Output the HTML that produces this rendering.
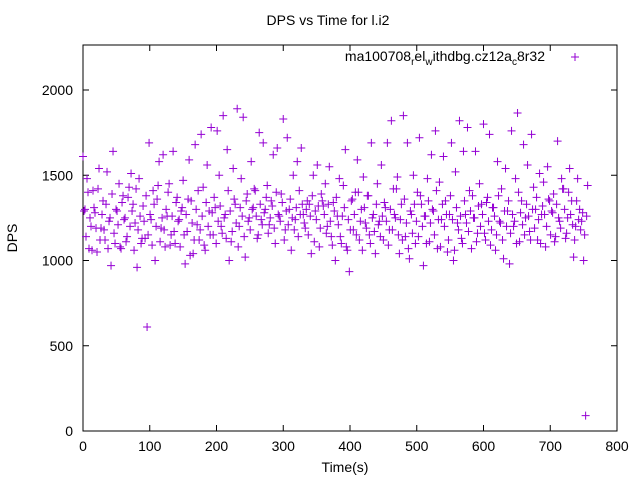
<!DOCTYPE html>
<html><head><meta charset="utf-8"><style>
html,body{margin:0;padding:0;background:#fff;}
svg{display:block;font-family:"Liberation Sans",sans-serif;}
</style></head><body>
<svg id="chart" width="640" height="480">
<text x="328" y="25" font-size="14" text-anchor="middle">DPS vs Time for l.i2</text>
<rect x="83" y="45" width="534" height="386" fill="none" stroke="#000" stroke-width="1"/>
<g id="axes"></g>
<g id="marks"></g>
<text x="345" y="472" font-size="14" text-anchor="middle">Time(s)</text>
<text x="17" y="238" font-size="14" text-anchor="middle" transform="rotate(-90 17 238)">DPS</text>
<g>
<text x="545" y="61" font-size="14" text-anchor="end">ma100708<tspan font-size="10" dy="4">r</tspan><tspan dy="-4">el</tspan><tspan font-size="10" dy="4">w</tspan><tspan dy="-4">ithdbg.cz12a</tspan><tspan font-size="10" dy="4">c</tspan><tspan dy="-4">8r32</tspan></text>
<path d="M571 57h8M575 53v8" stroke="#9400d3" stroke-width="1"/>
</g>
</svg>
<script>
const tStart = 0;
const tStep = 3;
const tStart2 = 1.5;
const dps = [
1610,1300,1480,1070,1200,1410,1280,1050,1540,1190,
1350,1120,1520,1230,970,1640,1100,1290,1450,1070,
1380,1250,1140,1430,1510,1330,1220,960,1480,1100,
1320,1130,610,1690,1240,1410,1000,1360,1580,1190,
1620,1080,1260,1450,1150,1640,1100,1370,1240,1290,
1470,980,1170,1590,1350,1040,1680,1210,1120,1740,
1430,1060,1560,1290,1780,1150,1310,1760,1500,1200,
1850,1270,1650,1000,1110,1540,1330,1890,1200,1480,
1840,1020,1390,1250,1580,1310,1410,1130,1750,1240,
1690,1300,1440,1210,1350,1620,1100,1660,1260,1390,
1830,1180,1720,1300,1060,1500,1240,1580,1410,1660,
1270,1190,1350,1330,1040,1500,1290,1560,1080,1390,
1320,1450,1200,1550,1140,1340,1000,1260,1480,1100,
1440,1650,1060,935,1350,1180,1400,1590,1120,1300,
1490,1220,1380,1150,1690,1270,1040,1450,1230,1560,
1120,1310,1690,1180,1820,1420,1250,1490,1040,1330,
1850,1140,1690,1010,1270,1500,1100,1400,1720,1330,
970,1260,1480,1110,1620,1290,1760,1070,1460,1240,
1610,1350,1050,1270,1690,1000,1520,1220,1820,1130,
1640,1270,1780,1410,1070,1250,1640,1160,1450,1330,
1800,1120,1370,1740,1180,1310,1060,1580,1230,1420,
1010,1540,1290,980,1760,1200,1480,1865,1110,1350,
1680,1250,1560,1170,1740,1430,1300,1120,1510,1270,
1460,1080,1550,1350,1290,1390,1140,1700,1230,1480,
1420,1130,1250,1540,1350,1020,1200,1480,1300,1230,
1000,90,1440
];
const dps2 = [
1290,1140,1400,1250,1060,1310,1190,1420,1120,1270,
1180,1330,1070,1250,1390,1160,1300,1210,1080,1340,
1240,1110,1370,1200,1290,1060,1420,1180,1260,1130,
1230,1380,1150,1270,1090,1330,1200,1440,1110,1250,
1180,1300,1400,1090,1260,1170,1340,1230,1080,1310,
1150,1270,1360,1030,1220,1120,1300,1410,1180,1260,
1090,1340,1200,1150,1280,1370,1100,1230,1320,1160,
1250,1130,1410,1290,1170,1360,1220,1080,1310,1260,
1140,1350,1230,1180,1300,1420,1260,1150,1330,1210,
1280,1370,1160,1250,1320,1190,1400,1270,1230,1340,
1120,1290,1210,1360,1250,1180,1310,1140,1270,1330,
1220,1300,1150,1260,1380,1110,1240,1320,1190,1350,
1270,1160,1330,1230,1090,1290,1370,1210,1140,1260,
1310,1080,1240,1180,1360,1270,1150,1400,1230,1060,
1310,1190,1380,1100,1250,1170,1330,1210,1140,1260,
1340,1230,1090,1300,1180,1270,1420,1150,1240,1120,
1360,1220,1070,1290,1160,1330,1230,1140,1380,1200,
1260,1100,1350,1220,1300,1150,1410,1240,1080,1330,
1200,1270,1120,1380,1240,1060,1310,1180,1260,1100,
1350,1220,1170,1290,1380,1250,1110,1320,1200,1270,
1160,1340,1230,1090,1310,1260,1150,1380,1220,1120,
1290,1200,1350,1160,1270,1230,1100,1400,1280,1210,
1150,1330,1260,1120,1300,1190,1370,1240,1100,1320,
1270,1200,1360,1150,1280,1110,1330,1250,1190,1420,
1300,1160,1400,1270,1210,1120,1350,1240,1180,1280,
1150,1260
];
const xTicks = [0,100,200,300,400,500,600,700,800];
const yTicks = [0,500,1000,1500,2000];

const NS = "http://www.w3.org/2000/svg";
const X0 = 83, X1 = 617, Y0 = 431, Y1 = 45;
const yMax = 2264;
function xs(v){ return X0 + v / 800 * (X1 - X0); }
function ys(v){ return Y0 - v / yMax * (Y0 - Y1); }

const axes = document.getElementById('axes');
xTicks.forEach(function(v){
  const x = xs(v);
  const p = document.createElementNS(NS,'path');
  p.setAttribute('d','M'+x+' '+Y0+'v-6M'+x+' '+Y1+'v6');
  p.setAttribute('stroke','#000');
  
  
  axes.appendChild(p);
  const t = document.createElementNS(NS,'text');
  t.setAttribute('x', x); t.setAttribute('y', 451);
  t.setAttribute('font-size','14'); t.setAttribute('text-anchor','middle');
  t.textContent = v;
  
  
  axes.appendChild(t);
});
yTicks.forEach(function(v){
  const y = ys(v);
  const p = document.createElementNS(NS,'path');
  p.setAttribute('d','M'+X0+' '+y+'h6M'+X1+' '+y+'h-6');
  p.setAttribute('stroke','#000');
  
  
  axes.appendChild(p);
  const t = document.createElementNS(NS,'text');
  t.setAttribute('x', 73); t.setAttribute('y', y + 5);
  t.setAttribute('font-size','14'); t.setAttribute('text-anchor','end');
  t.textContent = v;
  
  
  axes.appendChild(t);
});

const marks = document.getElementById('marks');
function plotSeries(arr, start){
  arr.forEach(function(v, i){
    const x = xs(start + i * tStep), y = ys(v);
    const p = document.createElementNS(NS,'path');
    p.setAttribute('d','M'+(x-4)+' '+y+'h8M'+x+' '+(y-4)+'v8');
    p.setAttribute('stroke','#9400d3');
    p.setAttribute('stroke-width','1');
    
    
    marks.appendChild(p);
  });
}
plotSeries(dps, tStart);
plotSeries(dps2, tStart2);
</script>
</body></html>
